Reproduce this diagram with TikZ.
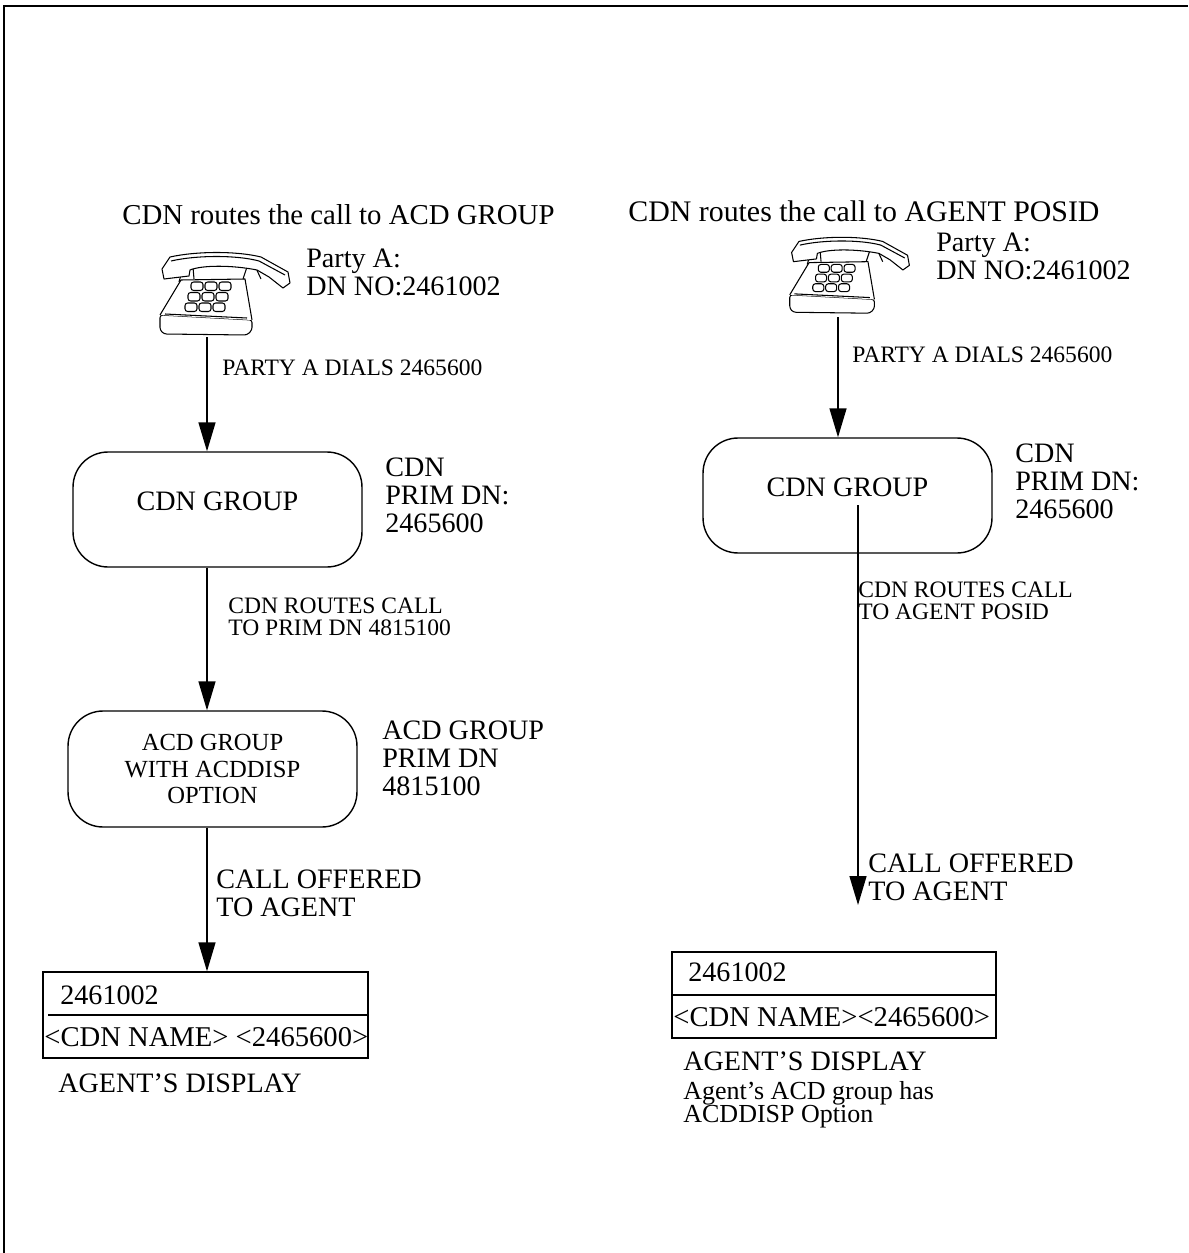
\documentclass[tikz,border=0pt]{standalone}
\usepackage{fontspec}
\setmainfont{Liberation Serif}
\usetikzlibrary{arrows.meta}
\tikzset{
    grp/.style={draw, rounded corners=0.7cm, line width=0.8pt, minimum width=5.78cm, minimum height=2.3cm, align=center},
    disp/.style={draw, line width=0.8pt, minimum width=6.5cm, minimum height=1.72cm},
    flow/.style={line width=0.8pt, -{Triangle[length=5.8mm,width=3.4mm]}},
    ttl/.style={anchor=west, inner sep=0pt, font=\fontsize{16.4}{19}\selectfont},
    big/.style={anchor=west, inner sep=0pt, align=left, font=\fontsize{16}{16}\selectfont},
    small/.style={anchor=west, inner sep=0pt, align=left, font=\fontsize{13.4}{12.5}\selectfont},
    note/.style={anchor=west, inner sep=0pt, align=left, font=\fontsize{14.8}{13.3}\selectfont},
    telephone/.pic={
      \begin{scope}[line width=0.6pt, line join=round]
        \draw[fill=white, rounded corners=1.5] (3,65) -- (3,80) -- (7,84) -- (90,85) -- (95,80) -- (95,70) -- cycle;
        \draw[fill=white] (3,65) -- (24,30) -- (88,29) -- (95,70);
        \draw (8,64) -- (90,68);
        \foreach \i in {0,1,2}
          \foreach \j in {0,1,2}
            \draw[rounded corners=1.5] ({34+14*\i-3*\j},{32+10.5*\j}) rectangle ++(12,8.5);
        \draw (22,32) -- (26,18) -- (36,17) -- (37,29);
        \draw (86,29) -- (90,17) -- (98,16) -- (104,29);
        \draw[fill=white] (5,19) -- (13,7) .. controls (40,1) and (80,1) .. (104,7) -- (131,22) -- (133,33) -- (126,38) -- (112,27) -- (100,20) .. controls (75,15) and (45,15) .. (33,20) -- (32,26) -- (7,29) -- cycle;
        \draw (14,11) .. controls (40,5) and (80,5) .. (102,11);
        \draw (102,11) -- (128,25);
      \end{scope}
    },
  }
\begin{document}
\begin{tikzpicture}[x=0.02cm, y=-0.02cm]
  \useasboundingbox (0,0) rectangle (1188,1253);
  \draw[line width=1.1pt] (4,1253) -- (4,6) -- (1188,6);

  %% routed to the ACD group
  \node[ttl] (titA) at (122,215) {CDN routes the call to ACD GROUP};
  \pic at (157,250) {telephone};
  \coordinate (telA) at (207,337);
  \node[big] (partyA) at (306,272) {Party A:\\DN NO:2461002};
  \node[grp, text depth=9pt, font=\fontsize{16}{18}\selectfont] (cdnA) at (217.5,509.5) {CDN GROUP};
  \node[big] (cdnlabA) at (385,495) {CDN\\PRIM DN:\\2465600};
  \node[grp, font=\fontsize{14}{15.3}\selectfont, minimum height=2.32cm] (acdA) at (212.5,769) {ACD GROUP\\WITH ACDDISP\\OPTION};
  \node[big] (acdlab) at (382,758) {ACD GROUP\\PRIM DN\\4815100};
  \node[disp] (dispA) at (205.5,1015) {};
  \draw[line width=0.8pt] ([xshift=0.12cm]dispA.west) -- (dispA.east);
  \node[big] (numA) at (60,995) {2461002};
  \node[big, font=\fontsize{16.3}{18}\selectfont] (nameA) at (44,1037) {<CDN NAME> <2465600>};
  \node[big] (agentA) at (58,1083) {AGENT'S DISPLAY};

  \draw[flow] (telA) -- (telA |- cdnA.north);
  \node[small] (dialA) at (222,368) {PARTY A DIALS 2465600};
  \draw[flow] (cdnA.south -| telA) -- (acdA.north -| telA);
  \node[small] (routeA) at (228,617) {CDN ROUTES CALL\\TO PRIM DN 4815100};
  \draw[flow] (acdA.south -| telA) -- (dispA.north -| telA);
  \node[big] (offerA) at (216,893) {CALL OFFERED\\TO AGENT};

  %% routed to the agent position
  \node[ttl, font=\fontsize{17}{19}\selectfont] (titB) at (628,211) {CDN routes the call to AGENT POSID};
  \pic[scale=0.92] at (787,235) {telephone};
  \coordinate (telB) at (838,317);
  \node[big] (partyB) at (936,256) {Party A:\\DN NO:2461002};
  \node[grp, text depth=9pt, font=\fontsize{16}{18}\selectfont] (cdnB) at (847.5,495.5) {CDN GROUP};
  \node[big] (cdnlabB) at (1015,481) {CDN\\PRIM DN:\\2465600};
  \node[disp, minimum width=6.48cm] (dispB) at (834,995) {};
  \draw[line width=0.8pt] (dispB.west) -- (dispB.east);
  \node[big] (numB) at (688,972) {2461002};
  \node[big, font=\fontsize{16.3}{18}\selectfont] (nameB) at (673,1017) {<CDN NAME><2465600>};
  \node[big] (agentB) at (683,1061) {AGENT'S DISPLAY};
  \node[note] (acdnote) at (683,1105) {Agent's ACD group has\\ACDDISP Option};

  \draw[flow] (telB) -- (telB |- cdnB.north);
  \node[small] (dialB) at (852,355) {PARTY A DIALS 2465600};
  \coordinate (hopB) at (858,505);
  \coordinate (offB) at (858,905);
  \draw[flow] (hopB) -- (offB);
  \node[small] (routeB) at (858,601) {CDN ROUTES CALL\\TO AGENT POSID};
  \node[big] (offerB) at (868,877) {CALL OFFERED\\TO AGENT};
\end{tikzpicture}
\end{document}
